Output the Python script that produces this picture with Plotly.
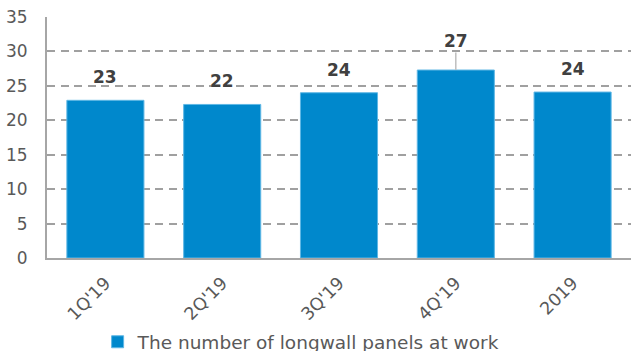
import plotly.graph_objects as go

categories = ["1Q'19", "2Q'19", "3Q'19", "4Q'19", "2019"]
values = [22.9, 22.3, 24.0, 27.3, 24.1]
labels = ["23", "22", "24", "27", "24"]
series_name = "The number of longwall panels at work"
y_ticks = [0, 5, 10, 15, 20, 25, 30, 35]

bar_color = "#0088CC"
grid_color = "#A0A0A0"
text_color = "#595959"
label_color = "#404040"
font_family = "DejaVu Sans, Verdana, sans-serif"

fig = go.Figure()
fig.add_trace(go.Bar(
    x=categories, y=values, name=series_name,
    marker=dict(color=bar_color, line=dict(color="#5FB7E5", width=1)),
    showlegend=True,
))

for i, (v, t) in enumerate(zip(values, labels)):
    if t == "27":
        fig.add_annotation(x=i, y=v, text="<b>%s</b>" % t, showarrow=True,
                           arrowhead=0, arrowwidth=1.5, arrowcolor="#BFBFBF",
                           ax=0, ay=-29, standoff=0,
                           font=dict(size=17, color=label_color, family=font_family))
    else:
        fig.add_annotation(x=i, y=v, text="<b>%s</b>" % t, showarrow=False,
                           yanchor="middle", yshift=23,
                           font=dict(size=17, color=label_color, family=font_family))

fig.update_layout(
    width=631, height=351,
    margin=dict(l=47, r=0, t=17, b=93, autoexpand=False),
    plot_bgcolor="white", paper_bgcolor="white",
    font=dict(family=font_family, size=16, color=text_color),
    bargap=0.34,
    legend=dict(orientation="h", x=0.436, xanchor="center", yref="container",
                y=0.025, yanchor="middle",
                font=dict(size=18.5, color=text_color), itemwidth=30,
                traceorder="normal"),
    xaxis=dict(type="category", range=[-0.5, 4.5], showline=True, linecolor="#A6A6A6",
               linewidth=2, tickangle=-45, showgrid=False, ticks="", automargin=False,
               ticklabelstandoff=6,
               tickfont=dict(size=17.5, color=text_color)),
    yaxis=dict(range=[0, 35], tickvals=y_ticks, showline=True, linecolor="#A6A6A6",
               linewidth=2, gridcolor=grid_color, griddash="8px,5.5px", gridwidth=2,
               zeroline=False, ticks="", ticklabelstandoff=14, automargin=False,
               tickfont=dict(size=17, color=text_color)),
)

fig.write_html("out.html")
